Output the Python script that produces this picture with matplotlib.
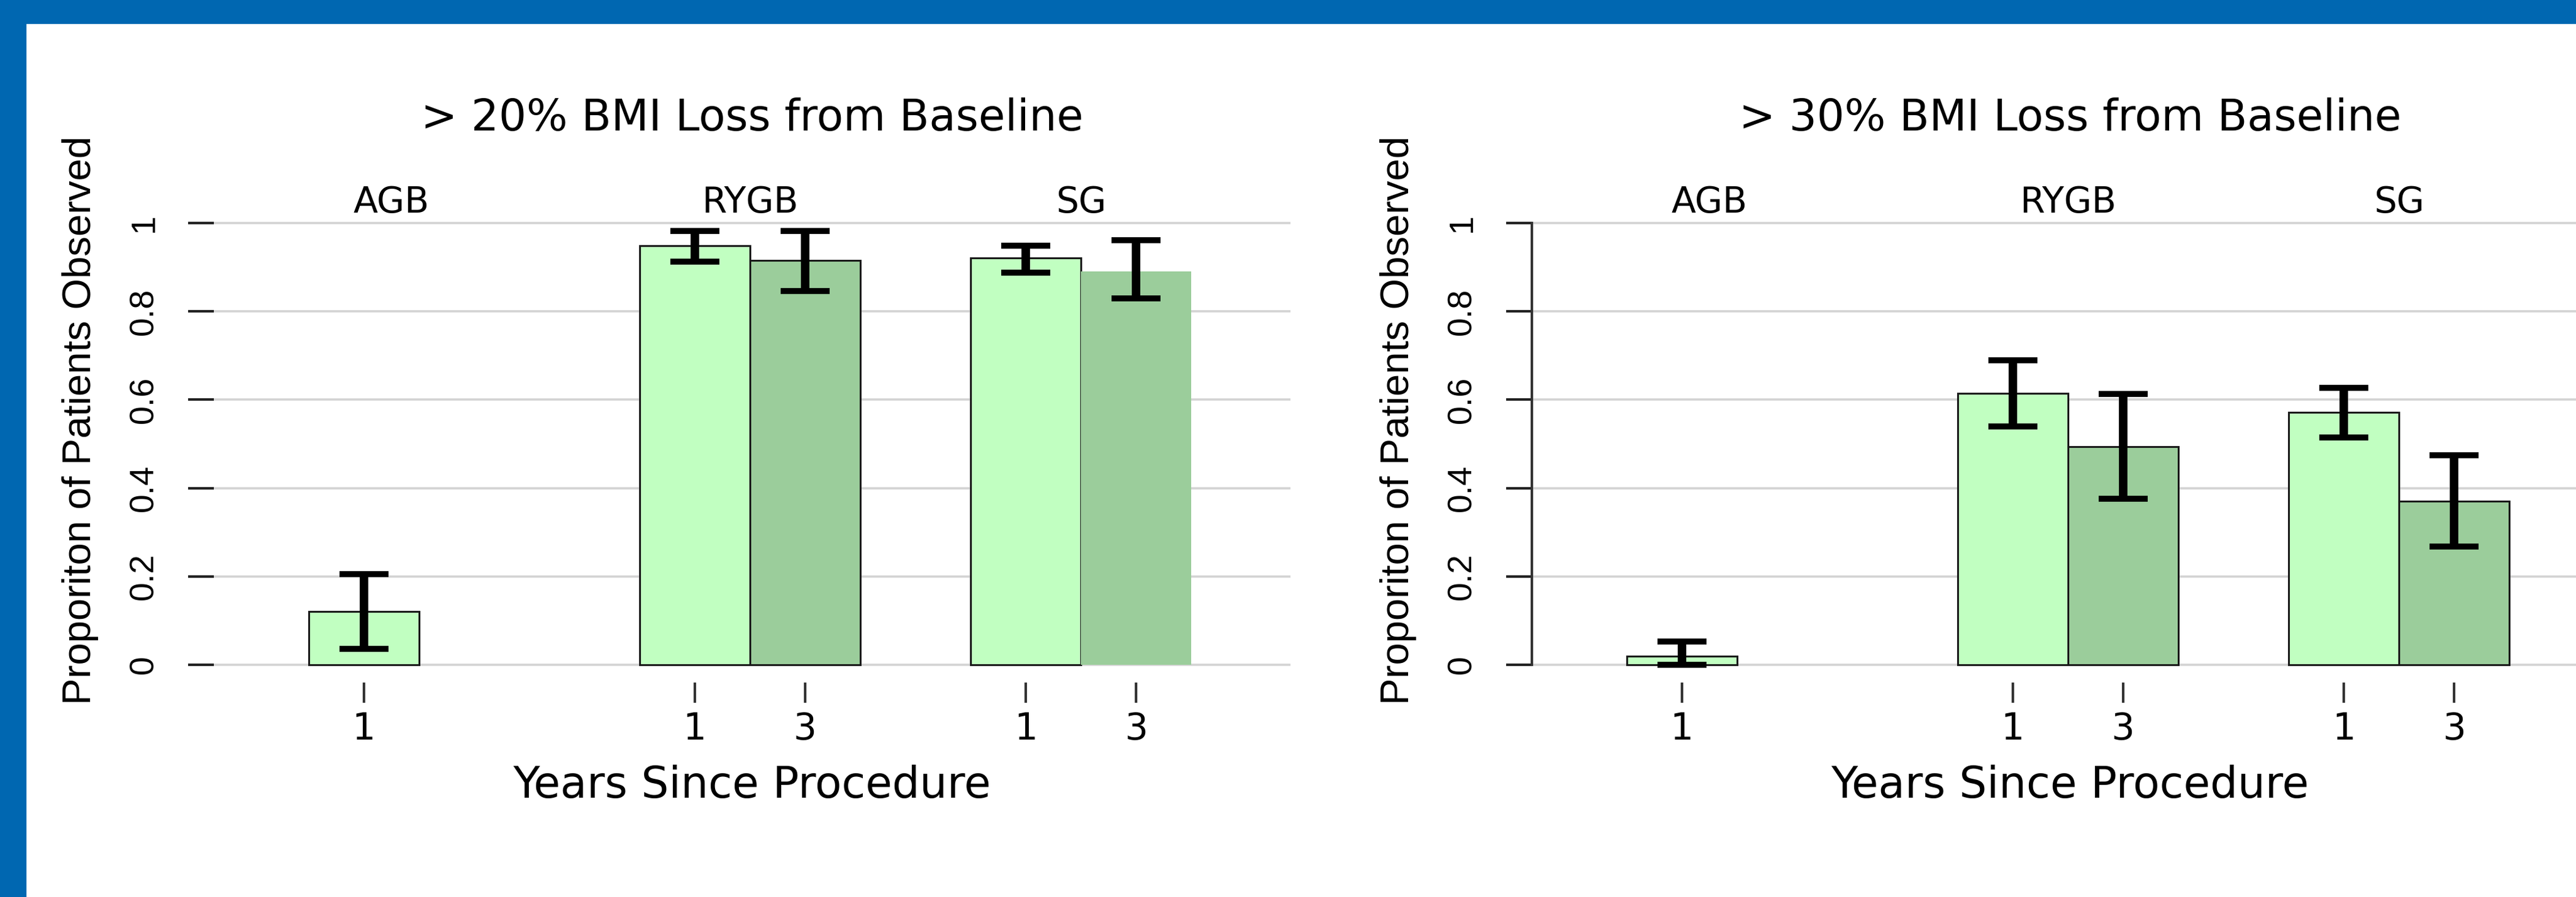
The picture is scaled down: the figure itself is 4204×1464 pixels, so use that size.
import matplotlib
matplotlib.use('Agg')
import matplotlib.pyplot as plt
from matplotlib.patches import Rectangle
import numpy as np

# data
groups = ['AGB', 'RYGB', 'SG']
years = ['1', '3']
titles = ['> 20% BMI Loss from Baseline', '> 30% BMI Loss from Baseline']

p20_y1 = [0.120, 0.949, 0.921]
p20_y1_lo = [0.036, 0.913, 0.887]
p20_y1_hi = [0.205, 0.982, 0.949]
p20_y3 = [np.nan, 0.916, 0.891]
p20_y3_lo = [np.nan, 0.846, 0.829]
p20_y3_hi = [np.nan, 0.982, 0.961]

p30_y1 = [0.019, 0.614, 0.571]
p30_y1_lo = [0.000, 0.540, 0.514]
p30_y1_hi = [0.052, 0.689, 0.627]
p30_y3 = [np.nan, 0.494, 0.370]
p30_y3_lo = [np.nan, 0.376, 0.267]
p30_y3_hi = [np.nan, 0.613, 0.474]

yticks = [0, 0.2, 0.4, 0.6, 0.8, 1]
ytick_labels = ['0', '0.2', '0.4', '0.6', '0.8', '1']

LIGHT = '#C1FFC1'
DARK = '#9BCD9B'
BLUE = '#0067B1'
EDGE = '#1a1a1a'

plt.rcParams['font.family'] = ['DejaVu Sans']

W, H = 4204, 1464
fig = plt.figure(figsize=(W / 100, H / 100), dpi=100)
fig.patch.set_facecolor('white')

xlim = (-0.86, 8.9)
ylim = (-0.04, 1.04)
ax_w = 1757 / W
ax_b = 350.2 / H
ax_h = 778.7 / H


def panel(ax, title, y1, y1_lo, y1_hi, y3, y3_lo, y3_hi, show_spine, glitch=False):
    y1 = np.array(y1); y3 = np.array(y3)
    x1 = np.arange(len(groups)) * 3 + 0.5
    x3 = x1 + 1
    ax.bar(x1, y1, width=1, color=LIGHT, edgecolor=EDGE, linewidth=2.2, zorder=2)
    ok = ~np.isnan(y3)
    bars3 = ax.bar(x3[ok], y3[ok], width=1, color=DARK, edgecolor=EDGE, linewidth=2.2, zorder=2)
    if glitch:
        bars3[-1].set_edgecolor('none')
    ekw = dict(fmt='none', ecolor='black', elinewidth=10, capsize=29, capthick=7, zorder=4)
    ax.errorbar(x1, y1, yerr=[y1 - np.array(y1_lo), np.array(y1_hi) - y1], **ekw)
    ax.errorbar(x3[ok], y3[ok], yerr=[(y3 - np.array(y3_lo))[ok], (np.array(y3_hi) - y3)[ok]], **ekw)

    ax.set_xlim(*xlim)
    ax.set_ylim(*ylim)
    ticks = list(x1) + list(x3[ok])
    labels = [years[0]] * len(x1) + [years[1]] * int(ok.sum())
    ax.set_xticks(ticks)
    ax.set_xticklabels(labels, fontsize=43)
    ax.set_yticks(yticks)
    ax.set_yticklabels(ytick_labels, fontsize=40, family='Liberation Sans')
    plt.setp(ax.get_yticklabels(), rotation=90, va='center')
    ax.tick_params(axis='x', length=24, width=3, color='#333333', pad=10)
    ax.tick_params(axis='y', length=30, width=3, color='#222222', pad=33)

    ax.yaxis.grid(True, color='#D3D3D3', linewidth=2.6)
    ax.set_axisbelow(True)
    for s in ['top', 'right', 'bottom']:
        ax.spines[s].set_visible(False)
    if show_spine:
        ax.spines['left'].set_bounds(0, 1)
        ax.spines['left'].set_linewidth(3)
        ax.spines['left'].set_color('#333333')
    else:
        ax.spines['left'].set_visible(False)

    ax.set_title(title, fontsize=51, y=(1.2094 - ylim[0]) / (ylim[1] - ylim[0]), pad=0)
    ax.set_xlabel('Years Since Procedure', fontsize=51)
    ax.xaxis.set_label_coords(0.5, (-0.301 - ylim[0]) / (ylim[1] - ylim[0]))
    ax.xaxis.label.set_va('baseline')
    ax.set_ylabel('Proporiton of Patients Observed', fontsize=47, family='Liberation Sans')
    ax.yaxis.set_label_coords(-0.124, 0.5494)
    ax.yaxis.label.set_va('center')

    for g, gx in zip(groups, [0.75, 4.0, 7.0]):
        ax.text(gx, 1.024, g, fontsize=42, ha='center', va='baseline')


ax1 = fig.add_axes([349 / W, ax_b, ax_w, ax_h])
panel(ax1, titles[0], p20_y1, p20_y1_lo, p20_y1_hi, p20_y3, p20_y3_lo, p20_y3_hi, False, glitch=True)
ax2 = fig.add_axes([2500 / W, ax_b, ax_w, ax_h])
panel(ax2, titles[1], p30_y1, p30_y1_lo, p30_y1_hi, p30_y3, p30_y3_lo, p30_y3_hi, True)

# slide frame
fig.patches.append(Rectangle((0, 1 - 38 / H), 1, 38 / H, transform=fig.transFigure,
                             color=BLUE, zorder=10))
fig.patches.append(Rectangle((0, 0), 42 / W, 1, transform=fig.transFigure,
                             color=BLUE, zorder=10))

fig.savefig('out.png', dpi=100)
